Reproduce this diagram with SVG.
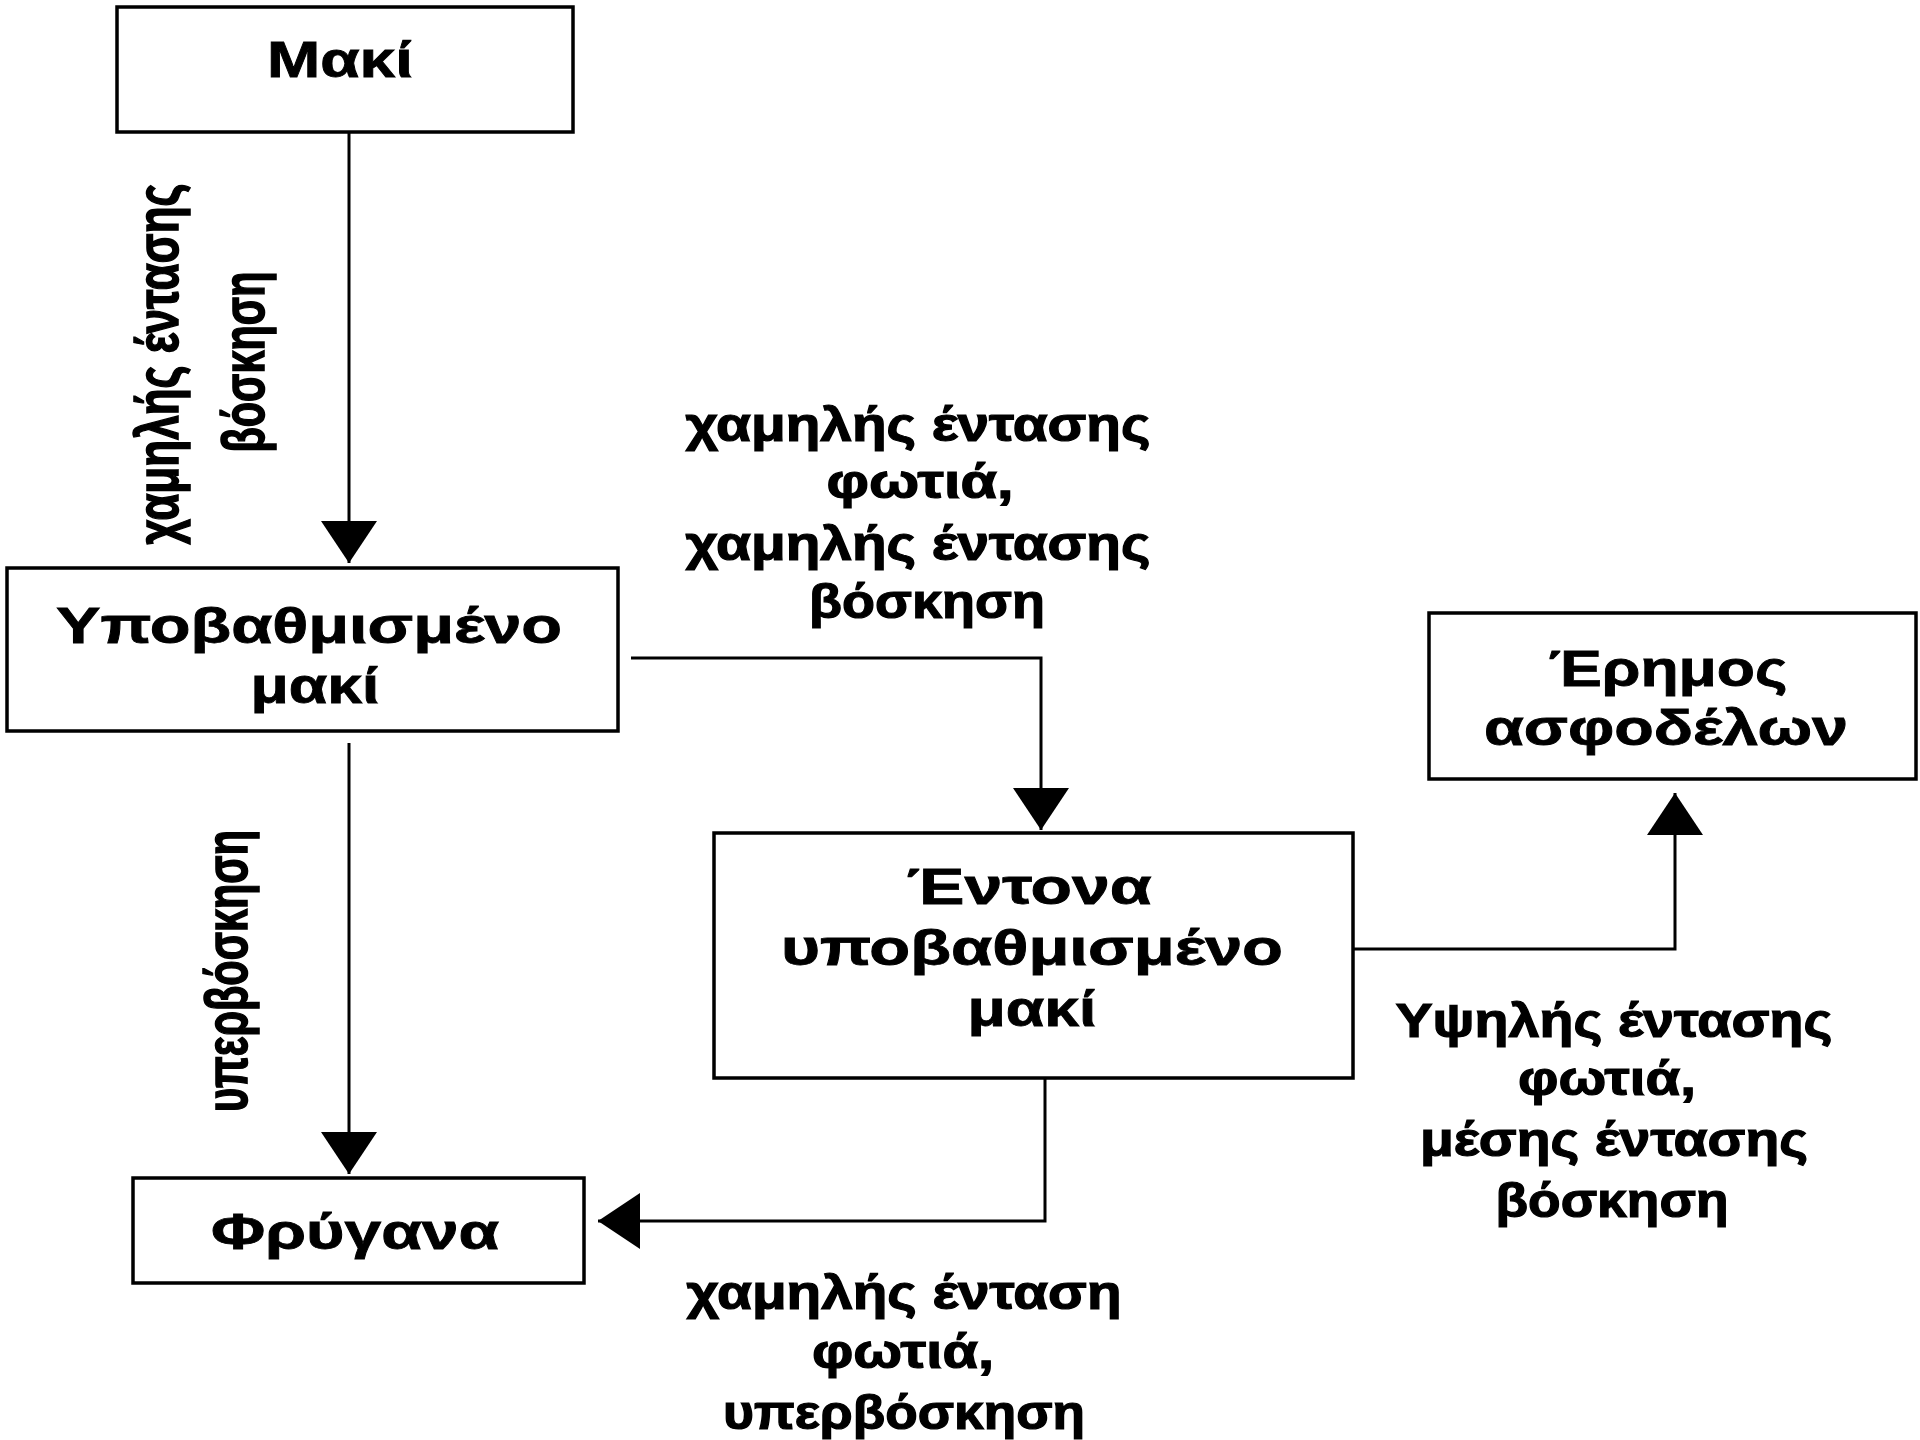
<svg xmlns="http://www.w3.org/2000/svg" width="1920" height="1440" viewBox="0 0 1920 1440">
<style>
.box{fill:#ffffff;stroke:#000000;stroke-width:3.5}
.nt{font-family:"Liberation Sans","DejaVu Sans",sans-serif;font-size:50px;font-weight:bold;fill:#000;stroke:#000;stroke-width:0.8;text-anchor:middle}
.lb{font-family:"Liberation Sans","DejaVu Sans",sans-serif;font-size:48px;font-weight:bold;fill:#000;stroke:#000;stroke-width:1.2;text-anchor:middle}
.vl{font-family:"Liberation Sans","DejaVu Sans",sans-serif;font-size:60px;font-weight:bold;fill:#000;stroke:#000;stroke-width:1.6;text-anchor:middle}
.edge{fill:none;stroke:#000;stroke-width:3}
</style>
<defs>
<marker id="ah" markerUnits="userSpaceOnUse" markerWidth="44" markerHeight="58" refX="42" refY="28" orient="auto" viewBox="0 0 44 58">
<path d="M0,0 L42,28 L0,56 z" fill="#000"/>
</marker>
</defs>
<rect width="1920" height="1440" fill="#ffffff"/>
<g id="connectors">
<path class="edge" d="M349,132 L349,563" marker-end="url(#ah)"/>
<path class="edge" d="M349,743 L349,1174" marker-end="url(#ah)"/>
<path class="edge" d="M631,658 L1041,658 L1041,830" marker-end="url(#ah)"/>
<path class="edge" d="M1353,949 L1675,949 L1675,793" marker-end="url(#ah)"/>
<path class="edge" d="M1045,1078 L1045,1221 L598,1221" marker-end="url(#ah)"/>
</g>
<g id="labels">
<g id="label-maki-ypo">
<text class="vl" transform="translate(178,364) rotate(-90)" textLength="361" lengthAdjust="spacingAndGlyphs">χαμηλής έντασης</text>
<text class="vl" transform="translate(264,362) rotate(-90)" textLength="181" lengthAdjust="spacingAndGlyphs">βόσκηση</text>
</g>
<g id="label-ypo-fry">
<text class="vl" transform="translate(247,971) rotate(-90)" textLength="282" lengthAdjust="spacingAndGlyphs">υπερβόσκηση</text>
</g>
<g id="label-ypo-ent">
<text class="lb" x="918" y="441" textLength="465" lengthAdjust="spacingAndGlyphs">χαμηλής έντασης</text>
<text class="lb" x="920" y="498" textLength="187" lengthAdjust="spacingAndGlyphs">φωτιά,</text>
<text class="lb" x="918" y="560" textLength="465" lengthAdjust="spacingAndGlyphs">χαμηλής έντασης</text>
<text class="lb" x="927" y="618" textLength="236" lengthAdjust="spacingAndGlyphs">βόσκηση</text>
</g>
<g id="label-ent-erim">
<text class="lb" x="1614" y="1037" textLength="437" lengthAdjust="spacingAndGlyphs">Υψηλής έντασης</text>
<text class="lb" x="1607" y="1095" textLength="178" lengthAdjust="spacingAndGlyphs">φωτιά,</text>
<text class="lb" x="1614" y="1156" textLength="388" lengthAdjust="spacingAndGlyphs">μέσης έντασης</text>
<text class="lb" x="1612" y="1217" textLength="233" lengthAdjust="spacingAndGlyphs">βόσκηση</text>
</g>
<g id="label-ent-fry">
<text class="lb" x="904" y="1309" textLength="435" lengthAdjust="spacingAndGlyphs">χαμηλής ένταση</text>
<text class="lb" x="903" y="1368" textLength="182" lengthAdjust="spacingAndGlyphs">φωτιά,</text>
<text class="lb" x="904" y="1429" textLength="362" lengthAdjust="spacingAndGlyphs">υπερβόσκηση</text>
</g>
</g>
<g id="node-maki">
<rect class="box" x="117" y="7" width="456" height="125"/>
<text class="nt" x="340" y="77" textLength="146" lengthAdjust="spacingAndGlyphs">Μακί</text>
</g>
<g id="node-ypovathmismeno">
<rect class="box" x="7" y="568" width="611" height="163"/>
<text class="nt" x="309" y="643" textLength="506" lengthAdjust="spacingAndGlyphs">Υποβαθμισμένο</text>
<text class="nt" x="315" y="703" textLength="129" lengthAdjust="spacingAndGlyphs">μακί</text>
</g>
<g id="node-entona">
<rect class="box" x="714" y="833" width="639" height="245"/>
<text class="nt" x="1029" y="904" textLength="245" lengthAdjust="spacingAndGlyphs">Έντονα</text>
<text class="nt" x="1032" y="965" textLength="502" lengthAdjust="spacingAndGlyphs">υποβαθμισμένο</text>
<text class="nt" x="1032" y="1026" textLength="129" lengthAdjust="spacingAndGlyphs">μακί</text>
</g>
<g id="node-erimos">
<rect class="box" x="1429" y="613" width="487" height="166"/>
<text class="nt" x="1668" y="686" textLength="239" lengthAdjust="spacingAndGlyphs">Έρημος</text>
<text class="nt" x="1666" y="745" textLength="364" lengthAdjust="spacingAndGlyphs">ασφοδέλων</text>
</g>
<g id="node-fryganа">
<rect class="box" x="133" y="1178" width="451" height="105"/>
<text class="nt" x="355" y="1249" textLength="288" lengthAdjust="spacingAndGlyphs">Φρύγανα</text>
</g>
</svg>
